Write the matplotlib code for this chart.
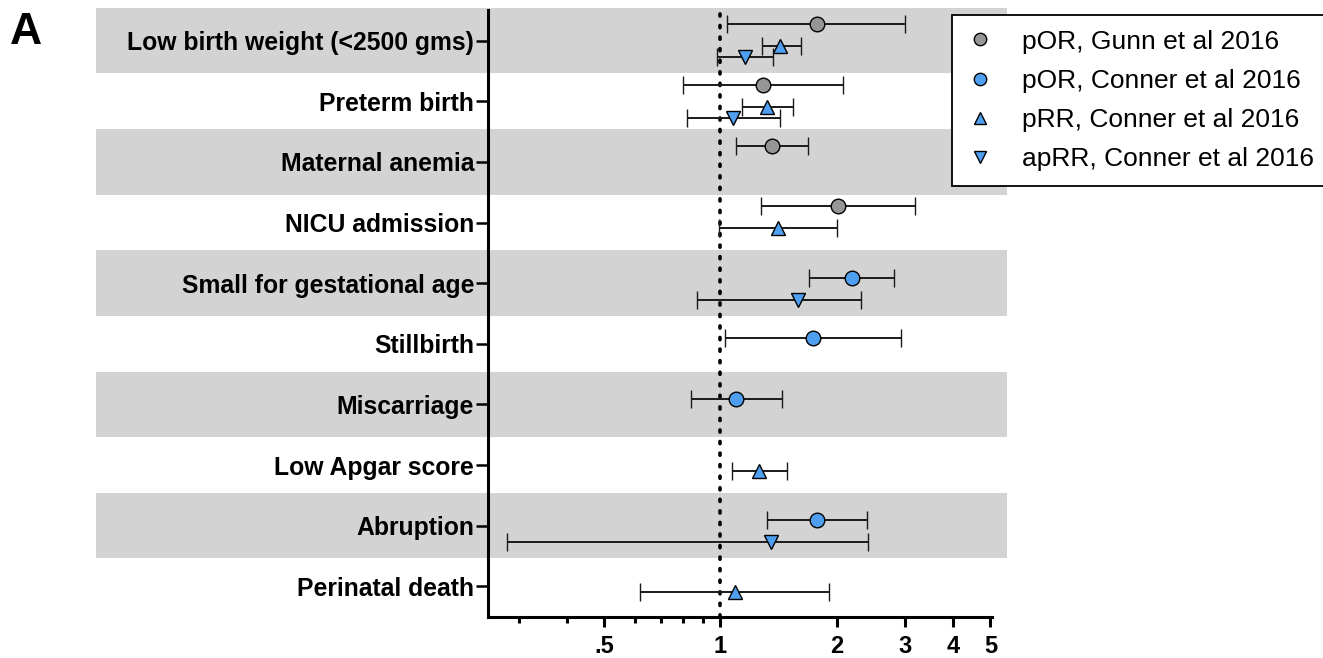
import matplotlib
matplotlib.use('Agg')
import matplotlib.pyplot as plt
from matplotlib.patches import Rectangle
from matplotlib.transforms import blended_transform_factory
import numpy as np

plt.rcParams['font.family'] = ['Liberation Sans', 'DejaVu Sans']

# 结局类别（自上而下）
categories = ['Low birth weight (<2500 gms)', 'Preterm birth', 'Maternal anemia',
              'NICU admission', 'Small for gestational age', 'Stillbirth',
              'Miscarriage', 'Low Apgar score', 'Abruption', 'Perinatal death']

# pOR, Gunn et al 2016
gunn_rows = [0, 1, 2, 3]
gunn_est = [1.78, 1.29, 1.36, 2.02]
gunn_lo = [1.04, 0.80, 1.10, 1.27]
gunn_hi = [3.01, 2.08, 1.69, 3.20]

# pOR, Conner et al 2016
conner_or_rows = [4, 5, 6, 8]
conner_or_est = [2.19, 1.74, 1.10, 1.78]
conner_or_lo = [1.70, 1.03, 0.84, 1.32]
conner_or_hi = [2.81, 2.93, 1.44, 2.39]

# pRR, Conner et al 2016
prr_rows = [0, 1, 3, 7, 9]
prr_est = [1.43, 1.32, 1.41, 1.26, 1.09]
prr_lo = [1.28, 1.14, 0.99, 1.07, 0.62]
prr_hi = [1.62, 1.54, 2.00, 1.49, 1.91]

# apRR, Conner et al 2016
aprr_rows = [0, 1, 4, 8]
aprr_est = [1.16, 1.08, 1.59, 1.35]
aprr_lo = [0.98, 0.82, 0.87, 0.28]
aprr_hi = [1.37, 1.43, 2.31, 2.41]

x_ticks = [0.5, 1, 2, 3, 4, 5]
x_ticklabels = ['.5', '1', '2', '3', '4', '5']
x_minor = [0.3, 0.4, 0.6, 0.7, 0.8, 0.9]

gray = '#969696'
blue = '#4f9ff0'

series = [
    ('pOR, Gunn et al 2016', gunn_rows, gunn_est, gunn_lo, gunn_hi, 'o', gray, -0.27),
    ('pOR, Conner et al 2016', conner_or_rows, conner_or_est, conner_or_lo, conner_or_hi, 'o', blue, -0.09),
    ('pRR, Conner et al 2016', prr_rows, prr_est, prr_lo, prr_hi, '^', blue, 0.09),
    ('apRR, Conner et al 2016', aprr_rows, aprr_est, aprr_lo, aprr_hi, 'v', blue, 0.27),
]

W, H = 1323, 658
fig = plt.figure(figsize=(W / 100, H / 100), dpi=100)
ax = fig.add_axes([488 / W, 1 - 616.7 / H, 504 / W, (616.7 - 10.4) / H])
ax.set_facecolor('none')

# 灰色背景条
trans = blended_transform_factory(fig.transFigure, ax.transData)
for i in range(0, len(categories), 2):
    ax.add_patch(Rectangle((96 / W, i - 0.54), (1007 - 96) / W, 1.08, transform=trans,
                           facecolor='#d3d3d3', edgecolor='none', clip_on=False, zorder=0))

ax.axvline(1, color='black', linestyle=(0, (0.6, 2.6)), linewidth=2.6,
           dash_capstyle='round', zorder=1)

handles = []
for label, rows, est, lo, hi, marker, color, off in series:
    est = np.array(est)
    y = np.array(rows) + off
    err = [est - np.array(lo), np.array(hi) - est]
    eb = ax.errorbar(est, y, xerr=err, fmt=marker, color='black', ecolor='#1a1a1a',
                     elinewidth=1.4, capsize=6.5, capthick=1.4, markersize=10.5,
                     markerfacecolor=color, markeredgecolor='black', markeredgewidth=1.0,
                     label=label, zorder=3)
    handles.append(eb.lines[0])

ax.set_xscale('log')
ax.set_xlim(0.25, 5.05)
ax.set_ylim(len(categories) - 0.5, -0.5)
ax.set_xticks(x_ticks)
ax.set_xticklabels(x_ticklabels)
ax.set_xticks(x_minor, minor=True)
ax.xaxis.set_minor_formatter(plt.NullFormatter())
ax.set_yticks(range(len(categories)))
ax.set_yticklabels(categories)

for s in ['top', 'right']:
    ax.spines[s].set_visible(False)
for s in ['left', 'bottom']:
    ax.spines[s].set_linewidth(2.2)
ax.tick_params(axis='y', length=8.5, width=1.8, pad=1.5, labelsize=17.8)
ax.tick_params(axis='x', which='major', length=7.5, width=2.2, pad=6, labelsize=17)
ax.tick_params(axis='x', which='minor', length=4.5, width=2.2)
for t in ax.get_yticklabels() + ax.get_xticklabels():
    t.set_fontweight('bold')

fig.text(10 / W, 1 - 44 / H, 'A', fontsize=32, fontweight='bold', ha='left', va='baseline')

leg = fig.legend(handles=handles, labels=[s[0] for s in series], loc='upper left',
                 bbox_to_anchor=(952 / W, 1 - 15 / H), borderaxespad=0, frameon=True,
                 fancybox=False, edgecolor='black', framealpha=1, fontsize=19,
                 markerscale=0.85, handlelength=1.0, handletextpad=1.1,
                 labelspacing=0.58, borderpad=0.55)
leg.get_frame().set_linewidth(1.3)

fig.savefig('out.png', dpi=100)
